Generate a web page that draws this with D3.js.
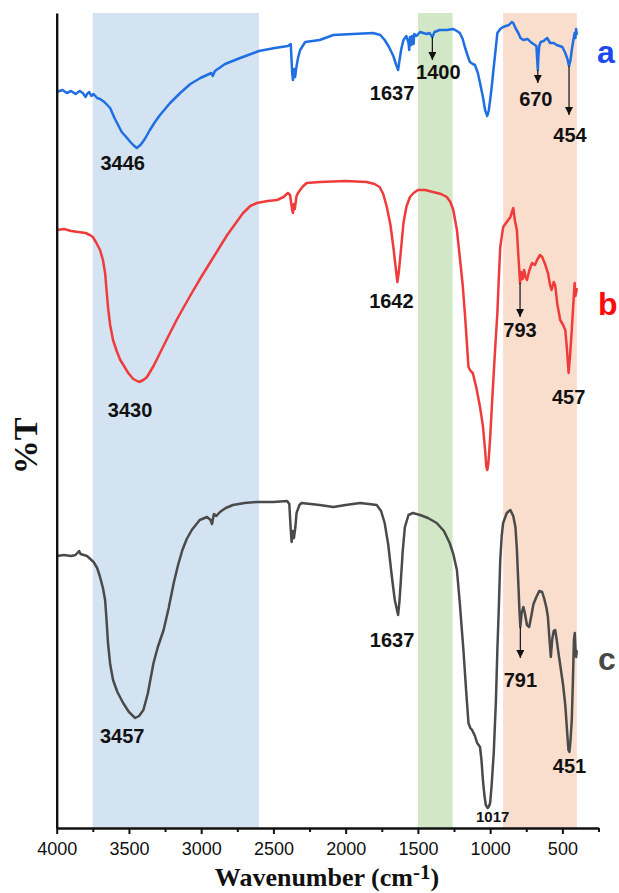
<!DOCTYPE html>
<html>
<head>
<meta charset="utf-8">
<script src="https://cdn.jsdelivr.net/npm/d3@7"></script>
<style>
  body { margin: 0; background: #fff; }
  svg { display: block; }
</style>
</head>
<body>
<svg id="chart" width="619" height="893"></svg>
<script>
// ---- FTIR spectra: [wavenumber (cm-1), %T (offset, arbitrary units)] ----
const spectrumA = [
  [4000,147.2],[3960,147.6],[3930,147.0],[3900,147.4],[3870,146.8],[3840,147.4],[3820,147.0],[3800,146.2],
  [3790,146.8],[3775,147.2],[3760,146.4],[3745,146.8],[3720,146.0],[3700,145.8],[3670,145.2],[3630,144.0],
  [3600,142.0],[3575,140.6],[3550,139.2],[3525,138.4],[3490,137.2],[3470,136.6],[3446,136.0],[3420,136.6],
  [3390,137.8],[3355,139.6],[3320,141.2],[3285,142.6],[3250,143.8],[3215,145.0],[3145,147.0],[3075,148.8],
  [3005,150.0],[2930,151.0],[2920,150.4],[2905,151.4],[2835,152.8],[2730,154.0],[2600,155.4],[2490,156.0],
  [2400,156.4],[2380,156.8],[2370,151.0],[2365,149.6],[2357,151.8],[2350,150.2],[2342,152.0],[2330,154.0],
  [2315,155.6],[2280,157.2],[2180,157.6],[2085,158.6],[1950,158.8],[1810,159.0],[1760,158.6],[1730,157.6],
  [1700,156.2],[1670,154.4],[1650,152.6],[1637,151.6],[1628,153.4],[1615,155.8],[1600,157.6],[1580,158.4],
  [1565,157.0],[1560,155.6],[1555,158.2],[1545,156.6],[1540,158.4],[1530,156.8],[1525,158.8],[1510,158.4],
  [1485,159.2],[1440,158.8],[1420,159.0],[1400,158.2],[1385,159.2],[1350,159.6],[1300,159.6],[1255,159.8],
  [1230,159.4],[1210,159.0],[1190,157.8],[1175,156.2],[1155,154.4],[1140,153.2],[1120,152.8],[1105,152.6],
  [1085,151.0],[1070,149.0],[1050,146.2],[1035,143.6],[1020,142.4],[1010,143.4],[1000,145.6],[990,148.0],
  [975,152.2],[960,156.2],[950,159.0],[930,159.8],[910,160.2],[870,160.6],[850,161.2],[840,161.0],
  [825,160.0],[805,159.0],[790,158.0],[770,157.6],[740,157.8],[720,157.2],[690,156.6],[680,156.4],
  [674,153.6],[670,151.6],[666,154.4],[660,156.4],[650,157.2],[630,157.4],[605,158.0],[585,157.0],
  [560,157.0],[540,156.6],[520,156.4],[500,156.2],[480,155.0],[465,153.8],[454,152.4],[445,153.4],
  [435,155.6],[425,157.4],[415,159.0],[410,158.0],[405,159.8],[400,158.6]
];

const spectrumB = [
  [4000,119.6],[3950,119.8],[3900,119.4],[3850,119.2],[3800,119.0],[3770,118.6],[3750,118.2],[3725,117.0],
  [3700,115.6],[3680,113.6],[3665,111.0],[3655,107.6],[3645,104.2],[3630,100.6],[3610,97.6],[3585,95.4],
  [3560,93.6],[3530,92.2],[3505,91.0],[3470,89.8],[3430,89.2],[3400,89.6],[3375,90.2],[3330,92.4],
  [3285,95.0],[3230,98.2],[3170,101.6],[3120,104.2],[3065,107.0],[3000,110.2],[2940,113.0],[2880,115.8],
  [2820,118.6],[2760,121.0],[2710,123.0],[2660,124.4],[2615,125.0],[2540,125.4],[2475,125.6],[2430,126.2],
  [2400,127.0],[2385,126.6],[2370,123.6],[2365,123.0],[2358,124.8],[2352,123.8],[2340,126.4],[2330,127.0],
  [2300,128.2],[2270,129.0],[2180,129.2],[2000,129.4],[1855,129.2],[1800,128.8],[1765,128.2],[1740,126.8],
  [1715,124.2],[1690,120.6],[1670,116.2],[1655,112.4],[1642,109.2],[1632,111.2],[1620,114.8],[1600,121.0],
  [1580,124.2],[1555,126.2],[1530,127.0],[1500,127.6],[1450,127.6],[1395,127.2],[1340,126.8],[1300,126.2],
  [1275,125.2],[1255,123.6],[1230,119.6],[1210,114.2],[1190,108.6],[1175,103.0],[1160,96.6],[1150,92.2],
  [1135,91.4],[1120,91.0],[1095,88.0],[1070,84.2],[1050,80.4],[1035,75.6],[1027,72.4],[1020,71.6],
  [1012,73.0],[1000,78.0],[985,86.0],[965,96.0],[950,103.0],[940,110.0],[930,116.2],[910,120.2],
  [880,121.4],[860,122.2],[840,124.0],[828,121.4],[815,119.6],[805,114.6],[793,109.0],[785,111.2],
  [775,109.8],[765,111.6],[755,110.2],[745,109.6],[730,111.4],[710,113.0],[690,112.6],[675,113.6],
  [655,114.6],[640,114.2],[620,112.8],[600,111.0],[585,108.6],[575,107.6],[560,109.2],[550,108.6],
  [535,104.8],[515,101.6],[495,100.6],[480,99.6],[470,96.4],[457,91.0],[447,94.4],[435,99.6],
  [425,104.4],[415,109.0],[410,106.4],[405,107.0],[400,108.0]
];

const spectrumC = [
  [4000,54.4],[3950,54.6],[3900,54.4],[3870,54.6],[3845,55.4],[3835,54.8],[3790,54.4],[3745,53.2],
  [3720,52.0],[3700,50.2],[3680,48.0],[3665,45.6],[3655,41.6],[3645,37.0],[3630,32.8],[3610,29.6],
  [3580,27.2],[3540,25.0],[3500,23.2],[3457,22.0],[3430,22.4],[3400,23.6],[3370,26.8],[3330,33.0],
  [3300,36.2],[3260,39.6],[3225,44.0],[3190,49.0],[3160,52.6],[3130,55.6],[3100,57.8],[3065,59.6],
  [3010,61.6],[2960,62.2],[2935,61.6],[2925,60.8],[2912,62.8],[2895,62.4],[2870,63.2],[2830,64.0],
  [2780,64.6],[2700,65.0],[2615,65.2],[2500,65.2],[2405,65.4],[2390,64.8],[2380,59.6],[2374,57.2],
  [2366,59.4],[2358,58.0],[2348,60.2],[2340,63.0],[2320,64.6],[2305,65.0],[2180,64.6],[2085,64.2],
  [2000,64.6],[1900,65.0],[1840,64.8],[1785,64.6],[1755,63.4],[1730,61.0],[1705,56.6],[1680,50.2],
  [1660,45.6],[1637,42.6],[1628,45.2],[1620,48.6],[1605,55.4],[1590,60.2],[1565,62.6],[1535,63.0],
  [1485,62.6],[1430,62.0],[1370,61.0],[1320,59.4],[1280,57.0],[1255,54.8],[1230,51.6],[1210,45.0],
  [1185,35.6],[1165,27.0],[1150,21.0],[1137,20.0],[1125,19.6],[1105,18.4],[1090,17.0],[1070,16.2],
  [1060,13.6],[1050,9.6],[1040,6.6],[1030,4.6],[1017,4.0],[1007,4.4],[1000,5.0],[990,8.4],
  [975,15.0],[960,25.4],[950,35.6],[940,44.0],[930,53.6],[920,58.4],[910,61.0],[885,63.0],
  [860,63.6],[840,62.4],[825,60.2],[815,55.8],[805,49.0],[797,43.4],[791,40.2],[782,43.0],
  [770,44.2],[760,43.0],[745,40.6],[730,40.2],[715,42.4],[700,44.8],[680,46.2],[660,47.4],
  [640,47.2],[625,45.8],[610,44.0],[600,42.2],[590,38.0],[580,34.2],[570,37.8],[560,39.4],
  [550,39.6],[540,37.8],[530,35.6],[515,32.6],[495,28.6],[480,24.6],[468,19.6],[458,15.6],
  [451,15.2],[444,17.4],[435,21.6],[428,28.6],[420,37.6],[414,39.0],[410,36.2],[405,34.2],[400,35.6]
];

const seriesNames = ["a", "b", "c"];
const spectra = { a: spectrumA, b: spectrumB, c: spectrumC };

// Highlighted spectral regions (cm-1)
const bandRanges = [[3750, 2600], [1500, 1260], [910, 400]];

// Axis ticks
const xTickValues = [4000, 3500, 3000, 2500, 2000, 1500, 1000, 500];
const xMinorTickValues = [3750, 3250, 2750, 2250, 1750, 1250, 750, 250];

// Assigned peaks
const peakSeries = ["a","a","a","a","a","b","b","b","b","c","c","c","c","c"];
const peakWavenumbers = [3446,1637,1400,670,454,3430,1642,793,457,3457,1637,791,451,1017];

// ---- styling / layout ----
const seriesColor = { a: "#1f6fe2", b: "#ef3b3b", c: "#4a4a4a" };
const seriesLabelColor = { a: "#1c48ef", b: "#ff0a0a", c: "#474747" };
const bandColors = ["#d4e3f2", "#d2e7c6", "#f9ddcd"];
const seriesLabelPos = { a: [597, 63], b: [598, 315], c: [598, 670] };
// label offset from the peak point (px) and, for arrowed labels, the arrow tip relative to the text baseline
const peakLabelLayout = {
  a3446: { dx: -14, dy: 22 },
  a1637: { dx: -6, dy: 30 },
  a1400: { dx: 6, dy: 42, arrow: -19 },
  a670:  { dx: -2, dy: 36, arrow: -23 },
  a454:  { dx: 1, dy: 76, arrow: -27 },
  b3430: { dx: -9, dy: 35 },
  b1642: { dx: -6, dy: 26 },
  b793:  { dx: 0, dy: 54, arrow: -20 },
  b457:  { dx: 0, dy: 31 },
  c3457: { dx: -13, dy: 25 },
  c1637: { dx: -6, dy: 32 },
  c791:  { dx: 0, dy: 60, arrow: -29 },
  c451:  { dx: 0, dy: 21 },
  c1017: { dx: 5, dy: 14, small: true }
};

const svg = d3.select("#chart");
const x = d3.scaleLinear().domain([4000, 250]).range([56.7, 598.5]);
const y = d3.scaleLinear().domain([0, 163]).range([828, 13]);

function valueAt(spec, wn) {
  for (let i = 0; i < spec.length - 1; i++) {
    const [w0, v0] = spec[i], [w1, v1] = spec[i + 1];
    if (wn <= w0 && wn >= w1) {
      const t = (w0 - wn) / (w0 - w1);
      return v0 + t * (v1 - v0);
    }
  }
  return spec[spec.length - 1][1];
}

// shaded regions
svg.append("g").selectAll("rect").data(bandRanges).join("rect")
  .attr("x", d => x(d[0]))
  .attr("width", d => x(d[1]) - x(d[0]))
  .attr("y", y(163))
  .attr("height", y(0) - y(163))
  .attr("fill", (d, i) => bandColors[i]);

// spectra
const line = d3.line().x(d => x(d[0])).y(d => y(d[1]));
svg.append("g").selectAll("path").data(seriesNames).join("path")
  .attr("d", s => line(spectra[s]))
  .attr("fill", "none")
  .attr("stroke", s => seriesColor[s])
  .attr("stroke-width", 2.5)
  .attr("stroke-linejoin", "round");

// axes
const xAxisG = svg.append("g").attr("transform", `translate(0,${y(0)})`)
  .call(d3.axisBottom(x).tickValues(xTickValues).tickFormat(d3.format("d"))
    .tickSize(6).tickSizeOuter(0).tickPadding(8));
xAxisG.select(".domain").attr("stroke", "#111").attr("stroke-width", 2.4);
xAxisG.selectAll(".tick line").attr("stroke", "#111").attr("stroke-width", 2);
xAxisG.selectAll(".tick text")
  .attr("font-family", "'Liberation Sans', Arial, sans-serif")
  .attr("font-size", 18).attr("fill", "#111");

const xMinorG = svg.append("g").attr("transform", `translate(0,${y(0)})`)
  .call(d3.axisBottom(x).tickValues(xMinorTickValues).tickFormat("").tickSize(4).tickSizeOuter(0));
xMinorG.select(".domain").remove();
xMinorG.selectAll(".tick line").attr("stroke", "#111").attr("stroke-width", 2);

const yAxisG = svg.append("g").attr("transform", `translate(${x(4000)},0)`)
  .call(d3.axisLeft(y).tickValues([]).tickSizeOuter(0));
yAxisG.select(".domain").attr("stroke", "#111").attr("stroke-width", 2.4);

// axis titles
const xTitle = svg.append("text")
  .attr("x", 327).attr("y", 886)
  .attr("text-anchor", "middle")
  .attr("font-family", "'Liberation Serif', 'Times New Roman', serif")
  .attr("font-weight", "bold").attr("font-size", 26).attr("fill", "#111");
xTitle.append("tspan").text("Wavenumber (cm");
xTitle.append("tspan").attr("dy", -7).attr("font-size", 21).text("-1");
xTitle.append("tspan").attr("dy", 7).text(")");

svg.append("text")
  .attr("transform", "translate(37,446) rotate(-90)")
  .attr("text-anchor", "middle")
  .attr("font-family", "'Liberation Serif', 'Times New Roman', serif")
  .attr("font-weight", "bold").attr("font-size", 34).attr("fill", "#111")
  .text("%T");

// series letters
svg.append("g").selectAll("text").data(seriesNames).join("text")
  .attr("x", s => seriesLabelPos[s][0]).attr("y", s => seriesLabelPos[s][1])
  .attr("font-family", "'Liberation Sans', Arial, sans-serif")
  .attr("font-weight", "bold").attr("font-size", 32)
  .attr("fill", s => seriesLabelColor[s])
  .text(s => s);

// peak annotations
const defs = svg.append("defs");
defs.append("marker").attr("id", "arrowhead")
  .attr("viewBox", "0 0 10 10").attr("refX", 10).attr("refY", 5)
  .attr("markerWidth", 8).attr("markerHeight", 8).attr("markerUnits", "userSpaceOnUse")
  .attr("orient", "auto")
  .append("path").attr("d", "M0,0 L10,5 L0,10 Z").attr("fill", "#111");

const peaks = peakWavenumbers.map((wn, i) => {
  const s = peakSeries[i];
  const key = s + wn;
  const px = x(wn), py = y(valueAt(spectra[s], wn));
  return { s, wn, key, px, py, lay: peakLabelLayout[key] };
});

const annG = svg.append("g");
annG.selectAll("line").data(peaks.filter(p => p.lay.arrow !== undefined)).join("line")
  .attr("x1", p => p.px).attr("x2", p => p.px)
  .attr("y1", p => p.py)
  .attr("y2", p => p.py + p.lay.dy + p.lay.arrow)
  .attr("stroke", "#111").attr("stroke-width", 1.2)
  .attr("marker-end", "url(#arrowhead)");

annG.selectAll("text").data(peaks).join("text")
  .attr("x", p => p.px + p.lay.dx)
  .attr("y", p => p.py + p.lay.dy)
  .attr("text-anchor", "middle")
  .attr("font-family", "'Liberation Sans', Arial, sans-serif")
  .attr("font-weight", "bold")
  .attr("font-size", p => p.lay.small ? 15 : 20)
  .attr("fill", "#111")
  .text(p => p.wn);
</script>
</body>
</html>
